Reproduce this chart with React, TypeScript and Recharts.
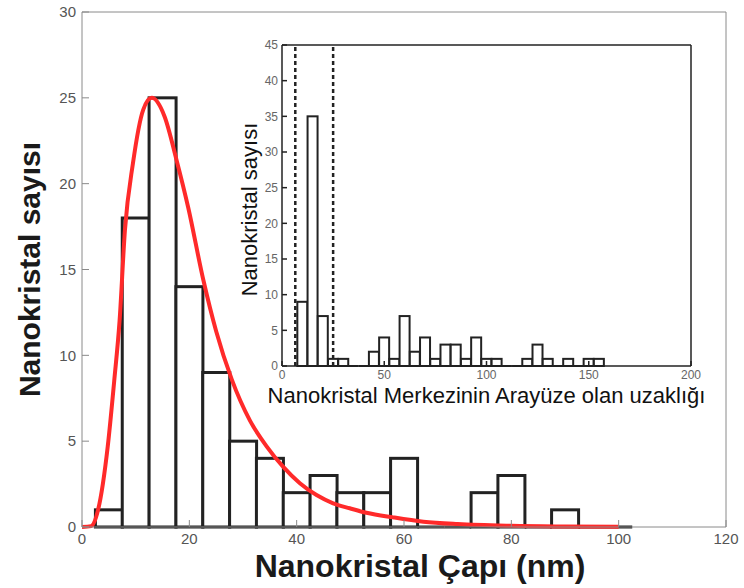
import { ComposedChart, Bar, Line, XAxis, YAxis, ReferenceLine, Label } from "recharts";

// main histogram: nanocrystal diameter (nm), 5 nm bins
const sizeBins = [5, 10, 15, 20, 25, 30, 35, 40, 45, 50, 55, 60, 65, 70, 75, 80, 85, 90, 95, 100];
const sizeCounts = [1, 18, 25, 14, 9, 5, 4, 2, 3, 2, 2, 4, 0, 0, 2, 3, 0, 1, 0, 0];

// fitted size distribution (red curve)
const fitX = [0, 1.7, 3, 4.8, 6, 7, 8, 9.5, 11.4, 13, 15.4, 17.6, 19.8, 22.6, 25, 27.9, 31.3, 34.4, 37.5, 40.6, 43.7, 46.8, 49.9, 53, 58, 63.6, 70, 80, 90, 100];
const fitY = [0, 0.05, 1, 4.7, 8.5, 12, 17.3, 21.2, 24.3, 25, 23.9, 21.4, 18.6, 14.4, 11.4, 8.6, 6.2, 4.7, 3.5, 2.55, 1.86, 1.38, 1.09, 0.83, 0.56, 0.31, 0.17, 0.07, 0.03, 0.01];

const sizeTicksX = [0, 20, 40, 60, 80, 100, 120];
const sizeTicksY = [0, 5, 10, 15, 20, 25, 30];

// inset: distance of nanocrystal centre from the interface
const distBins = [10, 15, 20, 25, 30, 35, 40, 45, 50, 55, 60, 65, 70, 75, 80, 85, 90, 95, 100, 105, 110, 115, 120, 125, 130, 135, 140, 145, 150, 155];
const distCounts = [9, 35, 7, 1, 1, 0, 0, 2, 4, 1, 7, 2, 4, 1, 3, 3, 1, 4, 1, 1, 0, 0, 1, 3, 1, 0, 1, 0, 1, 1];
const distMarkers = [6.5, 25];

const distTicksX = [0, 50, 100, 150, 200];
const distTicksY = [0, 5, 10, 15, 20, 25, 30, 35, 40, 45];

const sizeData = sizeBins.map((d, i) => ({ d, n: sizeCounts[i] }));
const fitData = fitX.map((x, i) => ({ x, y: fitY[i] }));
const distData = distBins.map((d, i) => ({ d, n: distCounts[i] }));

const FONT = "'Liberation Sans', Arial, Helvetica, sans-serif";

// outlined histogram bar; empty bins collapse to a flat line on the baseline
const HistBar = (props: any) => {
  const { x, y, width, height, stroke, strokeWidth } = props;
  if (!height || height <= 0) {
    return <line x1={x} x2={x + width} y1={y} y2={y} stroke={stroke} strokeWidth={strokeWidth} />;
  }
  return <rect x={x} y={y} width={width} height={height} fill="#fff" stroke={stroke} strokeWidth={strokeWidth} />;
};

function MainChart() {
  return (
    <ComposedChart width={744} height={588} data={sizeData} margin={{ top: 11, right: 17, bottom: 0, left: 0 }} barCategoryGap={0}>
      <XAxis
        dataKey="d"
        type="number"
        domain={[0, 120]}
        ticks={sizeTicksX}
        interval={0}
        height={61}
        stroke="#8a8a8a"
        tickSize={-7}
        tickMargin={13}
        tick={{ fill: "#555", fontSize: 15, fontFamily: FONT }}
      >
        <Label value="Nanokristal Çapı (nm)" position="insideBottom" offset={11} dx={16}
          style={{ fontFamily: FONT, fontSize: 32, fontWeight: 700, fill: "#1a1a1a" }} />
      </XAxis>
      {/* top and right axes close the frame, ticks only */}
      <XAxis xAxisId="top" orientation="top" dataKey="x" type="number" domain={[0, 120]} ticks={sizeTicksX}
        interval={0} height={1} stroke="#8a8a8a" tickSize={-7} tick={false} />
      <YAxis
        type="number"
        domain={[0, 30]}
        ticks={sizeTicksY}
        interval={0}
        width={82}
        stroke="#8a8a8a"
        tickSize={-7}
        tickMargin={13}
        tick={{ fill: "#555", fontSize: 15, fontFamily: FONT }}
      >
        <Label value="Nanokristal sayısı" angle={-90} position="insideLeft" offset={29}
          style={{ textAnchor: "middle", fontFamily: FONT, fontSize: 30, fontWeight: 700, fill: "#1a1a1a" }} />
      </YAxis>
      <YAxis yAxisId="right" orientation="right" type="number" domain={[0, 30]} ticks={sizeTicksY}
        interval={0} width={1} stroke="#8a8a8a" tickSize={-7} tick={false} />
      <Bar dataKey="n" stroke="#222" strokeWidth={3} shape={HistBar} isAnimationActive={false} />
      <Line data={fitData} xAxisId="top" dataKey="y" type="monotone" stroke="#ff2a2a" strokeWidth={4}
        dot={false} activeDot={false} isAnimationActive={false} />
    </ComposedChart>
  );
}

function InsetChart() {
  return (
    <ComposedChart width={480} height={375} data={distData} margin={{ top: 9, right: 24, bottom: 0, left: 0 }} barCategoryGap={0}>
      <XAxis
        dataKey="d"
        type="number"
        domain={[0, 200]}
        ticks={distTicksX}
        interval={0}
        height={44}
        stroke="#222"
        strokeWidth={1.5}
        tickSize={-5}
        tickMargin={9}
        tick={{ fill: "#666", fontSize: 12, fontFamily: FONT }}
      >
        <Label value="Nanokristal Merkezinin Arayüze olan uzaklığı" position="insideBottom" offset={7}
          style={{ fontFamily: FONT, fontSize: 22, fill: "#111" }} />
      </XAxis>
      <XAxis xAxisId="top" orientation="top" type="number" domain={[0, 200]} ticks={distTicksX}
        interval={0} height={1} stroke="#222" strokeWidth={1.5} tickSize={-5} tick={false} />
      <YAxis
        type="number"
        domain={[0, 45]}
        ticks={distTicksY}
        interval={0}
        width={46}
        stroke="#222"
        strokeWidth={1.5}
        tickSize={-5}
        tickMargin={9}
        tick={{ fill: "#666", fontSize: 12, fontFamily: FONT }}
      >
        <Label value="Nanokristal sayısı" angle={-90} position="insideLeft" offset={13} dy={4}
          style={{ textAnchor: "middle", fontFamily: FONT, fontSize: 22, fill: "#111" }} />
      </YAxis>
      <YAxis yAxisId="right" orientation="right" type="number" domain={[0, 45]} ticks={distTicksY}
        interval={0} width={1} stroke="#222" strokeWidth={1.5} tickSize={-5} tick={false} />
      <Bar dataKey="n" stroke="#222" strokeWidth={2} shape={HistBar} isAnimationActive={false} />
      {distMarkers.map((m) => (
        <ReferenceLine key={m} x={m} stroke="#222" strokeWidth={2.5} strokeDasharray="4 3" />
      ))}
    </ComposedChart>
  );
}

export default function App() {
  return (
    <div style={{ position: "absolute", left: 0, top: 0, width: 744, height: 588, background: "#fff" }}>
      <MainChart />
      <div style={{ position: "absolute", left: 236, top: 35 }}>
        <InsetChart />
      </div>
    </div>
  );
}
